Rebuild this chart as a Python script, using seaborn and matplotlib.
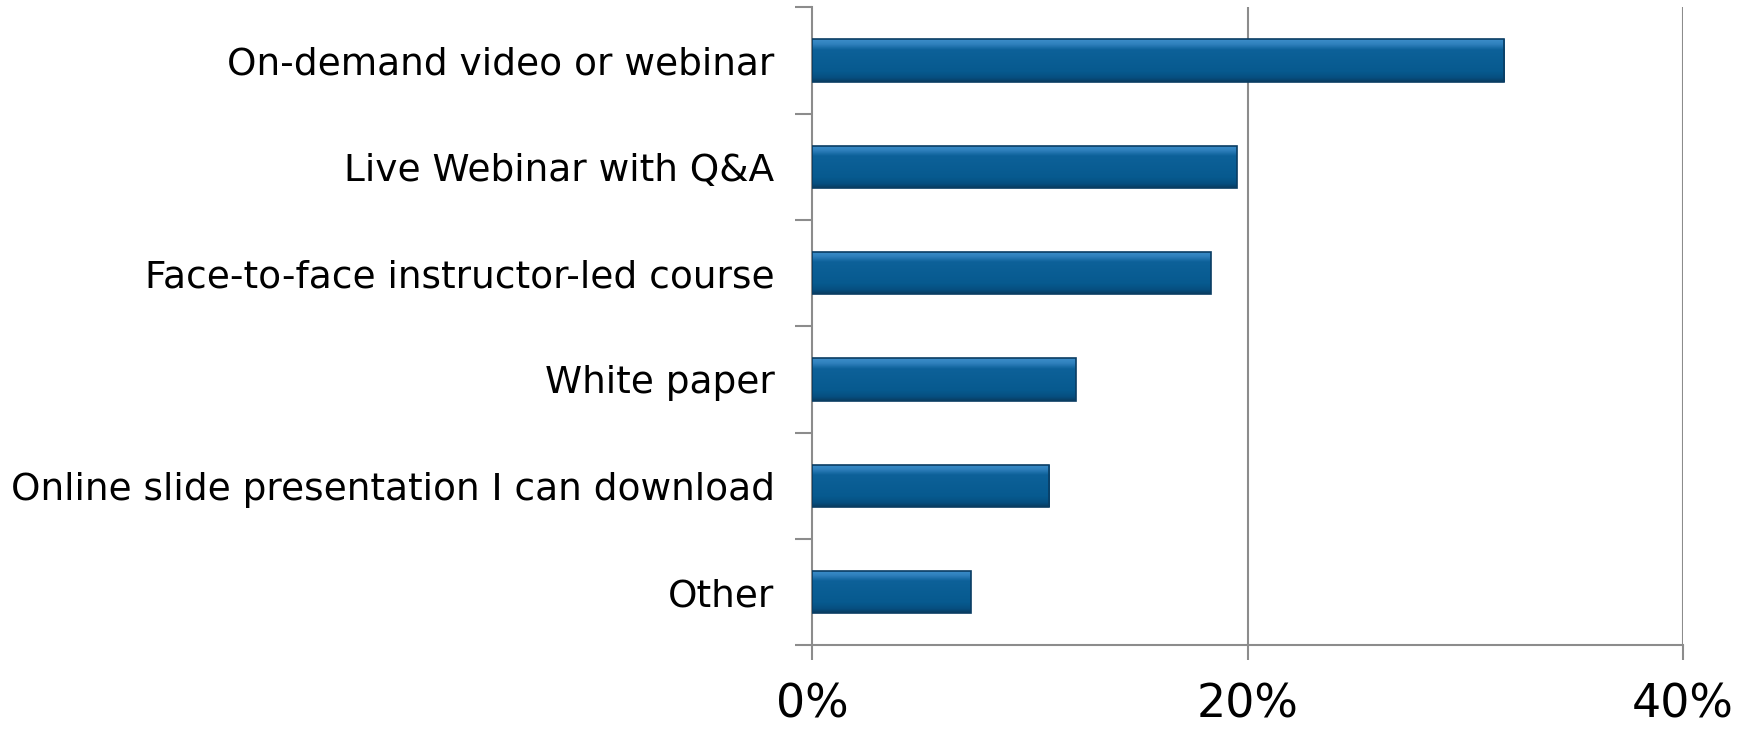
import numpy as np
import pandas as pd
import matplotlib
matplotlib.use("Agg")
import matplotlib.pyplot as plt
import matplotlib.colors as mcolors
import seaborn as sns

categories = [
    "On-demand video or webinar",
    "Live Webinar with Q&A",
    "Face-to-face instructor-led course",
    "White paper",
    "Online slide presentation I can download",
    "Other",
]
values = [31.8, 19.5, 18.3, 12.1, 10.9, 7.3]
xticks = [0, 20, 40]
xtick_labels = ["0%", "20%", "40%"]

df = pd.DataFrame({"category": categories, "value": values})

sns.set_theme(style="white")
plt.rcParams["font.family"] = ["DejaVu Sans"]

fig = plt.figure(figsize=(17.54, 7.30), dpi=100)
ax = fig.add_axes([0.463, 0.116, 0.4965, 0.874])

grid_col = "#8c8c8c"
sns.barplot(data=df, y="category", x="value", orient="h", ax=ax,
            color="#0b5c93", width=0.4, edgecolor="#0a3d63", linewidth=1.2,
            zorder=3)

# vertical gradient inside each bar (bevel look)
grad = np.linspace(0, 1, 256).reshape(-1, 1)
cmap = mcolors.LinearSegmentedColormap.from_list(
    "bar", [(0.0, "#3d8fca"), (0.12, "#2f80bd"), (0.25, "#0d6199"),
            (0.75, "#075a8f"), (0.9, "#064f80"), (1.0, "#0a3b5f")])
for p in list(ax.patches):
    x0, y0 = p.get_x(), p.get_y()
    w, h = p.get_width(), p.get_height()
    im = ax.imshow(grad, cmap=cmap, aspect="auto",
                   extent=(x0, x0 + w, y0 + h, y0), zorder=3.5,
                   interpolation="bilinear")
    im.set_clip_path(p)
    p.set_facecolor("none")
    p.set_zorder(4)

ax.set_xlim(0, 40)
ax.set_ylim(len(categories) - 0.5, -0.5)
ax.set_xticks(xticks)
ax.set_xticklabels(xtick_labels, fontsize=33)
ax.set_xlabel("")
ax.set_ylabel("")

# gridlines
for t in xticks[1:]:
    ax.axvline(t, color=grid_col, linewidth=1.5, zorder=1)

for s in ["top", "right"]:
    ax.spines[s].set_visible(False)
for s in ["left", "bottom"]:
    ax.spines[s].set_color(grid_col)
    ax.spines[s].set_linewidth(1.5)

ax.tick_params(axis="x", which="major", direction="out", length=11,
               width=1.5, color=grid_col, pad=16, bottom=True)
ax.tick_params(axis="y", which="major", length=0, pad=27, labelsize=27)
ax.set_yticks(np.arange(-0.5, len(categories), 1.0), minor=True)
ax.tick_params(axis="y", which="minor", direction="out", length=12,
               width=1.5, color=grid_col, left=True)
for lab in ax.get_yticklabels():
    lab.set_color("black")
for lab in ax.get_xticklabels():
    lab.set_color("black")

fig.savefig("out.png", dpi=100)
